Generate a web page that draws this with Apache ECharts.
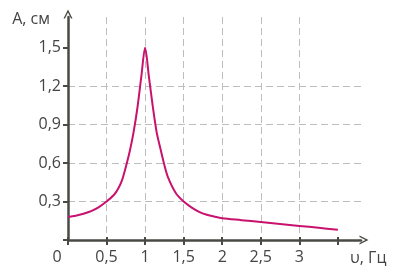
<!DOCTYPE html>
<html><head><meta charset="utf-8">
<script src="https://cdn.jsdelivr.net/npm/echarts@6/dist/echarts.min.js"></script>
<style>html,body{margin:0;padding:0;background:#fff}#c{width:400px;height:273px}</style>
</head><body><div id="c"></div>
<script>
const freq = [0,0.1,0.2,0.3,0.4,0.5,0.6,0.65,0.7,0.75,0.8,0.85,0.9,0.95,1,1.05,1.1,1.15,1.2,1.25,1.3,1.4,1.5,1.6,1.7,1.8,1.9,2,2.25,2.5,2.75,3,3.25,3.5];
const amp  = [0.18,0.19,0.205,0.225,0.257,0.3,0.355,0.4,0.465,0.57,0.69,0.84,1.03,1.27,1.5,1.27,1.04,0.84,0.71,0.585,0.485,0.365,0.3,0.255,0.22,0.197,0.182,0.17,0.155,0.14,0.125,0.11,0.095,0.08];
const xTicks = [0,0.5,1,1.5,2,2.5,3,3.5];
const xLabels = [0,0.5,1,1.5,2,2.5,3];
const yTicks = [0,0.3,0.6,0.9,1.2,1.5];
const yLabels = [0.3,0.6,0.9,1.2,1.5];

const axisColor = '#4a4a44';
const textColor = '#444';
const font = 'Open Sans';
const arrow = 'path://M0,10 L5,0 L10,10 L8.3,10 L5,3.4 L1.7,10 Z';
const fmt = v => String(v).replace('.', ',');

const chart = echarts.init(document.getElementById('c'));
chart.setOption({
  animation: false,
  grid: {left: 68, right: 39, top: 17, bottom: 33},
  xAxis: [{
    type: 'value', min: 0, max: 3.8, interval: 0.5,
    axisLine: {show: true, lineStyle: {color: axisColor, width: 2.5}, symbol: ['none', arrow], symbolSize: [10, 9], symbolOffset: [0, 3]},
    axisTick: {show: true, inside: false, length: 5, customValues: xTicks, lineStyle: {color: axisColor, width: 2}},
    axisLabel: {customValues: xLabels, margin: 9, color: textColor, fontFamily: font, fontSize: 16,
      formatter: v => v === 0 ? '{o|0}' : fmt(v),
      rich: {o: {padding: [0, 22, 0, 0], color: textColor, fontFamily: font, fontSize: 16}}},
    splitLine: {show: true, showMaxLine: false, lineStyle: {color: '#bdbdbd', type: [7, 4], width: 1}},
    name: 'υ, Гц', nameLocation: 'end', nameGap: -11,
    nameTextStyle: {color: textColor, fontFamily: font, fontSize: 16, align: 'left', verticalAlign: 'top', padding: [10, 0, 0, 0]}
  }, {
    type: 'value', min: 0, max: 3.8, interval: 0.5, position: 'bottom',
    axisLine: {show: false},
    axisTick: {show: true, inside: true, length: 3, customValues: xTicks, lineStyle: {color: axisColor, width: 2}},
    axisLabel: {show: false}, splitLine: {show: false}
  }],
  yAxis: {
    type: 'value', min: 0, max: 1.74, interval: 0.3,
    axisLine: {show: true, lineStyle: {color: axisColor, width: 2.5}, symbol: ['none', arrow], symbolSize: [10, 9], symbolOffset: [0, 3]},
    axisTick: {show: true, inside: false, length: 5, customValues: yTicks, lineStyle: {color: axisColor, width: 2}},
    axisLabel: {customValues: yLabels, margin: 7, color: textColor, fontFamily: font, fontSize: 16, formatter: fmt},
    splitLine: {show: true, showMaxLine: false, lineStyle: {color: '#bdbdbd', type: [7, 4], width: 1}},
    name: 'A, см', nameLocation: 'end', nameGap: -2,
    nameTextStyle: {color: textColor, fontFamily: font, fontSize: 16, align: 'right', verticalAlign: 'middle', padding: [0, 18, 0, 0]}
  },
  series: [{
    type: 'line', xAxisIndex: 0, showSymbol: false, smooth: 0.3,
    data: freq.map((f, i) => [f, amp[i]]),
    lineStyle: {color: '#c8126e', width: 2}
  }]
});
</script></body></html>
